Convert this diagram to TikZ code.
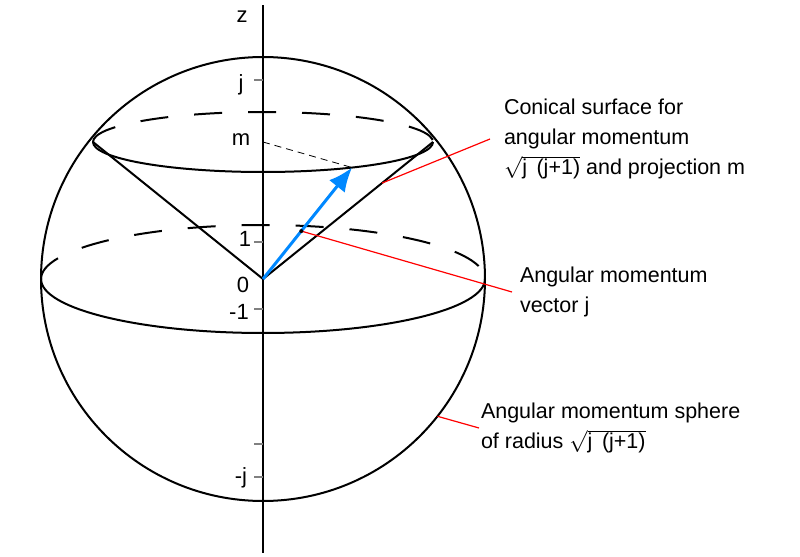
\documentclass[tikz,border=0pt]{standalone}
\usepackage{fontspec}
\setmainfont{Liberation Sans}
\usetikzlibrary{arrows.meta, calc}
\definecolor{vecblue}{RGB}{0,136,255}

\begin{document}
\begin{tikzpicture}[
        x=0.5pt, y=-0.5pt,
        line width=1pt,
        back/.style={dash pattern=on 14pt off 13pt},
        tickmark/.style={draw=gray, line width=0.6pt},
        leader/.style={draw=red, line width=0.6pt},
        axislabel/.style={font=\fontsize{11}{13}\selectfont, inner sep=0pt},
        note/.style={align=left, anchor=west, inner sep=0pt, font=\fontsize{10.75}{15}\selectfont}
        ]
        \useasboundingbox (0,0) rectangle (800,557);
        % Points
        \coordinate (O) at (263,279);
        \coordinate (rim) at (263,142);
        \coordinate (rimL) at (93,142);
        \coordinate (rimR) at (433,142);
        \coordinate (eqL) at (41,279);
        \coordinate (ztop) at (263,5);
        \coordinate (zbot) at (263,553);
        \coordinate (tip) at ([shift={(58.4:170 and 30)}]rim);
        \coordinate (cp) at ($(O)!0.7!(rimR)$);
        \coordinate (vp) at ($(O)!0.43!(tip)$);
        \coordinate (sp) at ([shift={(38.2:222)}]O);

        % Sphere, equator and rim
        \draw (O) circle[radius=222];
        \draw[back] (eqL) arc[start angle=180, end angle=360, x radius=222, y radius=54];
        \draw (eqL) arc[start angle=180, end angle=0, x radius=222, y radius=54];
        \draw[back] (rimL) arc[start angle=180, end angle=360, x radius=170, y radius=30];
        \draw (rimL) arc[start angle=180, end angle=0, x radius=170, y radius=30];

        % Cone and axis
        \draw (rimL) -- (O) -- (rimR);
        \draw[line width=0.75pt] (ztop) -- (zbot);
        \foreach \y in {80,242,309,444,477}
            \draw[tickmark] (254,\y) -- (263,\y);

        % Vector
        \draw[dash pattern=on 3.5pt off 2.5pt, line width=0.4pt] (rim) -- (tip);
        \draw[-{Latex[length=12pt,width=10pt]}, draw=vecblue, fill=vecblue, line width=1.5pt] (O) -- (tip);

        % Labels
        \node[axislabel] (lz) at (242,17) {z};
        \node[axislabel] (lj) at (241,85) {j};
        \node[axislabel] (lm) at (241,140) {m};
        \node[axislabel] (lone) at (245,239) {1};
        \node[axislabel] (lzero) at (243,285) {0};
        \node[axislabel] (lmone) at (239,312) {-1};
        \node[axislabel] (lmj) at (241,478) {-j};

        \node[note, inner xsep=6.5pt] (conical) at (490,139) {Conical surface for\\angular momentum\\$\sqrt{\mbox{j \,(j+1)}}$ and projection m};
        \node[note, inner xsep=3.5pt] (vector) at (512,292) {Angular momentum\\vector j};
        \node[note, inner xsep=0.5pt] (sphere) at (479,428) {Angular momentum sphere\\of radius $\sqrt{\mbox{j \,(j+1)}}$};

        % Leaders
        \draw[leader] (cp) -- (conical.west);
        \draw[leader] (vp) -- (vector.west);
        \draw[leader] (sp) -- (sphere.west);
        \fill (vp) circle[radius=2];
    \end{tikzpicture}
\end{document}
